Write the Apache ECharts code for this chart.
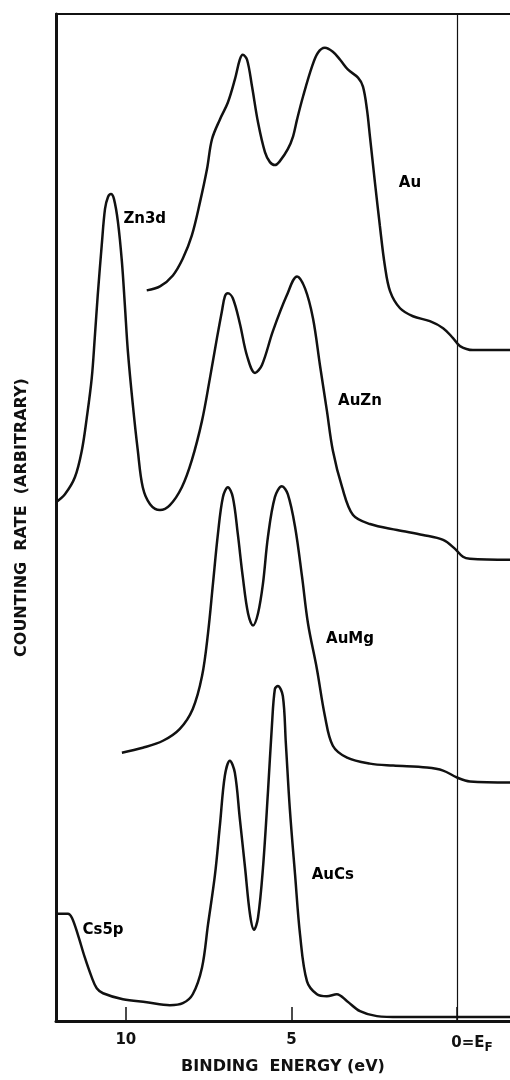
<!DOCTYPE html>
<html>
<head>
<meta charset="utf-8">
<title>Binding energy spectra</title>
<script src="https://cdn.jsdelivr.net/npm/echarts@6/dist/echarts.min.js"></script>
<style>
    html, body { margin: 0; padding: 0; background: #fff; }
    #chart { width: 510px; height: 1080px; }
</style>
</head>
<body>
<div id="chart"></div>
<script>
// binding energy (eV), counting rate (arbitrary)
var auData = [
    [9.37, 735], [8.97, 739], [8.58, 750], [8.28, 767], [8.01, 790], [7.76, 824],
    [7.55, 857], [7.40, 887], [7.16, 907], [6.92, 924], [6.71, 947], [6.56, 967],
    [6.47, 972], [6.34, 967], [6.19, 940], [6.01, 904], [5.80, 874], [5.65, 864],
    [5.50, 861], [5.35, 865], [5.11, 877], [4.95, 890], [4.83, 907], [4.65, 930],
    [4.38, 960], [4.20, 974], [3.99, 979], [3.75, 975], [3.53, 967], [3.29, 957],
    [2.99, 949], [2.84, 940], [2.72, 917], [2.63, 890], [2.48, 844], [2.33, 800],
    [2.18, 760], [2.02, 734], [1.72, 717], [1.33, 709], [0.82, 704], [0.42, 697],
    [0.12, 687], [-0.09, 679], [-0.48, 675], [-1.60, 675]
];
var auZnData = [
    [12.11, 522], [11.84, 530], [11.54, 547], [11.33, 574], [11.18, 607], [11.03, 647],
    [10.94, 687], [10.85, 730], [10.73, 780], [10.63, 817], [10.54, 829], [10.45, 832],
    [10.36, 827], [10.24, 804], [10.12, 764], [10.03, 720], [9.94, 674], [9.79, 620],
    [9.64, 574], [9.49, 537], [9.27, 520], [8.97, 514], [8.67, 519], [8.31, 537],
    [8.01, 564], [7.70, 604], [7.46, 647], [7.25, 687], [7.10, 714], [7.01, 729],
    [6.92, 732], [6.77, 727], [6.56, 702], [6.34, 669], [6.10, 652], [5.89, 660],
    [5.56, 694], [5.14, 730], [4.83, 749], [4.59, 737], [4.35, 707], [4.14, 660],
    [3.93, 614], [3.75, 574], [3.47, 537], [3.14, 509], [2.63, 500], [1.81, 494],
    [1.03, 489], [0.42, 484], [0.06, 475], [-0.18, 467], [-0.39, 465], [-1.60, 464]
];
var auMgData = [
    [10.12, 270], [9.49, 275], [8.88, 282], [8.37, 294], [7.98, 314], [7.70, 347],
    [7.52, 390], [7.37, 440], [7.22, 490], [7.07, 527], [6.92, 537], [6.77, 527],
    [6.62, 490], [6.47, 447], [6.31, 410], [6.16, 398], [6.01, 410], [5.86, 440],
    [5.71, 487], [5.50, 527], [5.29, 538], [5.11, 530], [4.89, 497], [4.68, 447],
    [4.50, 400], [4.23, 354], [3.99, 307], [3.75, 277], [3.32, 265], [2.63, 259],
    [1.93, 257], [0.91, 255], [0.42, 252], [0.00, 245], [-0.39, 241], [-1.60, 240]
];
var auCsData = [
    [12.11, 108], [11.75, 108], [11.63, 104], [11.45, 87], [11.24, 64], [11.03, 44],
    [10.88, 33], [10.69, 28], [10.09, 22], [9.37, 19], [8.67, 16], [8.28, 18],
    [7.98, 27], [7.70, 54], [7.52, 97], [7.31, 147], [7.16, 197], [7.01, 247],
    [6.86, 262], [6.71, 250], [6.56, 204], [6.40, 154], [6.25, 107], [6.13, 92],
    [6.01, 104], [5.86, 154], [5.71, 230], [5.59, 297], [5.50, 334], [5.41, 337],
    [5.26, 327], [5.17, 280], [5.05, 214], [4.89, 147], [4.74, 87], [4.53, 40],
    [4.23, 27], [3.93, 25], [3.63, 27], [3.32, 20], [2.93, 10], [2.42, 5],
    [1.72, 4], [-0.09, 4], [-1.60, 4]
];
// curve labels: energy, counting rate, text
var curveLabels = [
    [1.42, 843, 'Au'],
    [9.43, 807, 'Zn3d'],
    [2.93, 624, 'AuZn'],
    [3.23, 384, 'AuMg'],
    [3.75, 147, 'AuCs'],
    [10.69, 92, 'Cs5p']
];
var tickValues = [10, 5, 0];
var fermiLevel = 0;

var ink = '#111';
var font = 'DejaVu Sans';

var myChart = echarts.init(document.getElementById('chart'));

function curve(name, data) {
    return {
        name: name,
        type: 'line',
        data: data,
        smooth: 0.35,
        symbol: 'none',
        lineStyle: { color: ink, width: 2.5 }
    };
}

var series = [
    curve('Au', auData),
    curve('AuZn', auZnData),
    curve('AuMg', auMgData),
    curve('AuCs', auCsData)
];
// Fermi level line
series[0].markLine = {
    silent: true,
    symbol: 'none',
    label: { show: false },
    lineStyle: { color: ink, width: 1.2, type: 'solid' },
    emphasis: { disabled: true },
    data: [{ xAxis: fermiLevel }]
};
// labels next to the curves
series.push({
    type: 'scatter',
    symbolSize: 0,
    silent: true,
    itemStyle: { opacity: 1 },
    data: curveLabels.map(function (d) {
        return { value: [d[0], d[1]], name: d[2] };
    }),
    label: {
        show: true,
        position: 'inside',
        formatter: '{b}',
        color: '#000',
        textBorderWidth: 0,
        fontFamily: font,
        fontWeight: 'bold',
        fontSize: 15
    }
});

var option = {
    animation: false,
    backgroundColor: '#fff',
    grid: { left: 56, right: 0, top: 14, bottom: 53 },
    xAxis: [
        {
            type: 'value',
            inverse: true,
            min: -1.6,
            max: 12.11,
            name: 'BINDING  ENERGY (eV)',
            nameLocation: 'middle',
            nameGap: 35,
            nameTextStyle: { color: ink, fontFamily: font, fontWeight: 'bold', fontSize: 16 },
            axisLine: { onZero: false, lineStyle: { color: ink, width: 3 } },
            axisTick: { inside: true, length: 14, customValues: tickValues, lineStyle: { color: ink, width: 1.5 } },
            axisLabel: {
                customValues: tickValues,
                margin: 12,
                color: ink,
                fontFamily: font,
                fontWeight: 'bold',
                fontSize: 15,
                formatter: function (v) {
                    return v === 0 ? '{pad|}0=E{sub|F}' : String(v);
                },
                rich: {
                    pad: { width: 30 },
                    sub: { fontSize: 12, fontWeight: 'bold', fontFamily: font, color: ink, padding: [9, 0, 0, 0] }
                }
            },
            splitLine: { show: false }
        },
        {
            type: 'value',
            position: 'top',
            inverse: true,
            min: -1.6,
            max: 12.11,
            axisLine: { show: true, onZero: false, lineStyle: { color: ink, width: 2 } },
            axisTick: { show: false },
            axisLabel: { show: false },
            splitLine: { show: false }
        }
    ],
    yAxis: {
        type: 'value',
        min: 0,
        max: 1013,
        name: 'COUNTING  RATE  (ARBITRARY)',
        nameLocation: 'middle',
        nameGap: 26,
        nameTextStyle: { color: ink, fontFamily: font, fontWeight: 'bold', fontSize: 16 },
        axisLine: { show: true, onZero: false, lineStyle: { color: ink, width: 3 } },
        axisTick: { show: false },
        axisLabel: { show: false },
        splitLine: { show: false }
    },
    series: series
};

myChart.setOption(option);
</script>
</body>
</html>
